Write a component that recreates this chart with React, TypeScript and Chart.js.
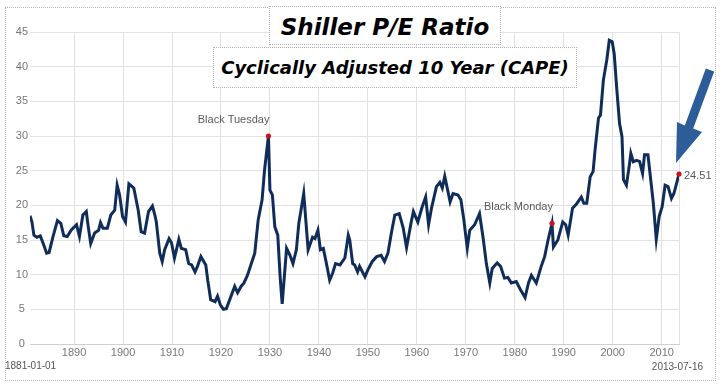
import React, { useEffect, useRef } from "react";
import { Chart, registerables } from "chart.js";

Chart.register(...registerables);

const years: number[] = [
  1881.0, 1881.4, 1881.8, 1882.4, 1883.1, 1883.7, 1884.4, 1884.9, 1885.7, 1886.6,
  1887.3, 1887.9, 1888.6, 1889.4, 1890.5, 1891.1, 1891.8, 1892.5, 1892.8, 1893.4,
  1894.2, 1895.0, 1895.4, 1895.9, 1896.8, 1897.5, 1898.3, 1898.8, 1899.3, 1899.9,
  1900.5, 1901.2, 1902.2, 1903.1, 1903.7, 1904.4, 1905.2, 1906.0, 1906.5, 1906.8,
  1907.5, 1908.0, 1908.5, 1909.4, 1909.9, 1910.5, 1911.4, 1911.9, 1912.8, 1913.4,
  1914.0, 1914.7, 1915.2, 1915.9, 1916.9, 1917.3, 1917.9, 1918.8, 1919.3, 1919.9,
  1920.5, 1921.1, 1922.0, 1922.8, 1923.4, 1924.1, 1924.7, 1925.4, 1926.2, 1926.9,
  1927.6, 1928.4, 1928.9, 1929.7, 1930.0, 1930.5, 1931.0, 1931.6, 1932.1, 1932.5,
  1933.4, 1934.1, 1934.7, 1935.4, 1935.9, 1936.9, 1937.8, 1938.7, 1939.2, 1939.8,
  1940.3, 1940.9, 1941.4, 1942.2, 1942.8, 1943.4, 1944.3, 1945.3, 1946.0, 1946.3,
  1946.9, 1947.3, 1947.9, 1948.3, 1949.4, 1950.0, 1950.9, 1951.8, 1952.7, 1953.4,
  1954.1, 1954.8, 1955.5, 1956.4, 1957.2, 1957.9, 1958.8, 1959.3, 1960.2, 1961.1,
  1961.8, 1962.4, 1963.0, 1964.0, 1964.7, 1965.2, 1965.7, 1966.8, 1967.4, 1968.4,
  1969.0, 1969.6, 1970.3, 1970.8, 1971.8, 1972.8, 1973.5, 1974.2, 1974.9, 1975.4,
  1976.4, 1977.1, 1977.9, 1978.6, 1979.3, 1980.3, 1981.2, 1982.1, 1982.8, 1983.4,
  1984.4, 1985.4, 1986.1, 1986.8, 1987.6, 1987.9, 1988.8, 1989.8, 1990.4, 1990.9,
  1991.8, 1992.6, 1993.6, 1994.1, 1994.7, 1995.4, 1996.0, 1996.4, 1997.1, 1997.5,
  1998.1, 1998.8, 1999.3, 1999.9, 2000.3, 2000.8, 2001.4, 2001.9, 2002.2, 2002.8,
  2003.4, 2003.7, 2004.2, 2004.9, 2005.5, 2006.1, 2006.5, 2007.2, 2007.7, 2008.3,
  2008.9, 2009.5, 2010.1, 2010.7, 2011.3, 2012.0, 2012.5, 2013.54,
];

const capeValues: number[] = [
  18.5, 17.6, 15.7, 15.4, 15.6, 14.5, 13.1, 13.2, 15.5, 17.8,
  17.4, 15.6, 15.5, 16.4, 17.2, 15.5, 18.6, 19.1, 17.4, 14.5,
  16.0, 16.4, 17.5, 16.7, 16.7, 18.6, 19.3, 22.9, 21.5, 18.4,
  17.6, 23.1, 22.5, 19.3, 16.2, 16.0, 19.1, 19.9, 18.6, 17.6,
  13.1, 11.9, 13.6, 15.2, 14.6, 12.4, 15.1, 13.8, 13.6, 11.6,
  11.4, 10.4, 11.2, 12.6, 11.4, 9.2, 6.4, 6.1, 6.9, 5.6,
  5.0, 5.1, 6.8, 8.3, 7.4, 8.3, 8.8, 9.9, 11.6, 13.1,
  17.9, 20.8, 25.1, 30.0, 22.2, 21.5, 16.9, 15.7, 9.5, 5.8,
  13.8, 12.8, 11.6, 13.6, 17.4, 21.7, 13.6, 15.4, 15.2, 16.4,
  13.6, 13.8, 12.1, 9.2, 10.2, 11.6, 11.4, 12.4, 15.7, 15.0,
  11.6, 11.4, 10.4, 11.2, 9.7, 10.7, 11.9, 12.6, 12.8, 11.9,
  13.1, 16.0, 18.6, 18.8, 16.8, 13.9, 17.4, 19.1, 17.6, 19.8,
  21.2, 17.2, 19.6, 22.7, 23.3, 22.5, 24.2, 20.5, 21.7, 21.5,
  20.8, 17.9, 13.8, 16.4, 17.2, 18.8, 15.5, 11.6, 8.8, 10.9,
  11.7, 11.2, 9.5, 9.6, 8.8, 9.0, 7.8, 6.7, 8.8, 9.9,
  8.8, 11.2, 12.6, 15.0, 17.4, 14.0, 15.0, 17.6, 17.2, 15.7,
  19.6, 20.2, 21.2, 20.3, 20.3, 24.1, 24.9, 28.0, 32.6, 33.0,
  38.1, 41.0, 43.8, 43.6, 41.9, 37.1, 31.8, 29.9, 23.7, 22.9,
  25.8, 27.5, 26.3, 26.5, 26.3, 24.6, 27.3, 27.3, 24.1, 20.3,
  15.1, 18.4, 19.8, 22.9, 22.7, 21.0, 21.7, 24.51,
];

const decadeTicks: number[] = [1890, 1900, 1910, 1920, 1930, 1940, 1950, 1960, 1970, 1980, 1990, 2000, 2010];
const startDateLabel = "1881-01-01";
const endDateLabel = "2013-07-16";
const titleText = "Shiller P/E Ratio";
const subtitleText = "Cyclically Adjusted 10 Year (CAPE)";

const annotationLabels: string[] = ["Black Tuesday", "Black Monday", "24.51"];
const annotationYears: number[] = [1929.7, 1987.6, 2013.54];
const annotationValues: number[] = [30.0, 17.4, 24.51];
const annotationSides: string[] = ["above", "above", "right"];

const X_MIN = 1881;
const X_MAX = 2013.54;
const TICK_FONT = "'Liberation Sans', Arial, sans-serif";

const annotationPlugin = {
  id: "capeAnnotations",
  afterDatasetsDraw(chart: any) {
    const ctx = chart.ctx;
    const xs = chart.scales.x;
    const ys = chart.scales.y;
    ctx.save();
    for (let i = 0; i < annotationLabels.length; i++) {
      const px = xs.getPixelForValue(annotationYears[i]);
      const py = ys.getPixelForValue(annotationValues[i]);
      ctx.fillStyle = "#c8141e";
      ctx.beginPath();
      ctx.arc(px, py, 2.6, 0, Math.PI * 2);
      ctx.fill();
      ctx.fillStyle = "#5a5a5a";
      ctx.font = `11px ${TICK_FONT}`;
      ctx.textBaseline = "middle";
      if (annotationSides[i] === "above") {
        ctx.textAlign = "right";
        ctx.fillText(annotationLabels[i], px + 1, py - 16);
      } else {
        ctx.textAlign = "left";
        ctx.fillText(annotationLabels[i], px + 5, py + 2);
      }
    }
    ctx.font = `10px ${TICK_FONT}`;
    ctx.fillStyle = "#555";
    ctx.textBaseline = "middle";
    ctx.textAlign = "left";
    ctx.fillText(startDateLabel, 5, 366);
    ctx.textAlign = "right";
    ctx.fillText(endDateLabel, 703, 367);
    ctx.restore();
  },
};

export default function App() {
  const canvasRef = useRef<HTMLCanvasElement | null>(null);

  useEffect(() => {
    if (!canvasRef.current) return;
    const points = years.map((x, i) => ({ x, y: capeValues[i] }));
    const chart = new Chart(canvasRef.current, {
      type: "line",
      data: {
        datasets: [
          {
            data: points,
            borderColor: "#102d5a",
            borderWidth: 3,
            pointRadius: 0,
            tension: 0,
            fill: false,
          },
        ],
      },
      options: {
        responsive: false,
        animation: false,
        layout: { padding: { top: 32, right: 43, left: 0, bottom: 0 } },
        plugins: { legend: { display: false }, tooltip: { enabled: false }, title: { display: false } },
        scales: {
          x: {
            type: "linear",
            min: X_MIN,
            max: X_MAX,
            afterBuildTicks: (scale: any) => {
              scale.ticks = [...decadeTicks, X_MAX].map((v) => ({ value: v }));
            },
            afterFit: (scale: any) => {
              scale.height = 42;
            },
            ticks: {
              autoSkip: false,
              maxRotation: 0,
              padding: 2,
              color: "#777",
              font: { size: 11, family: TICK_FONT },
              callback: (v: any) => (decadeTicks.includes(Number(v)) ? String(v) : ""),
            },
            grid: { color: "#e2e2e2", drawTicks: false, lineWidth: 1 },
            border: { color: "#cfcfcf" },
          },
          y: {
            min: 0,
            max: 45,
            afterFit: (scale: any) => {
              scale.width = 30;
            },
            ticks: {
              stepSize: 5,
              padding: 2,
              crossAlign: "center",
              color: "#777",
              font: { size: 11, family: TICK_FONT },
            },
            grid: { color: "#e2e2e2", drawTicks: false },
            border: { display: false },
          },
        },
      },
      plugins: [annotationPlugin],
    } as any);
    return () => chart.destroy();
  }, []);

  const titleFont = "'DejaVu Sans', Verdana, sans-serif";

  return (
    <div style={{ position: "fixed", left: 0, top: 0, width: 722, height: 386, background: "#fff" }}>
      <div
        style={{
          position: "absolute",
          left: 5,
          top: 7,
          width: 709,
          height: 372,
          border: "1px dotted #b5b5b5",
        }}
      />
      <canvas ref={canvasRef} width={722} height={386} style={{ position: "absolute", left: 0, top: 0 }} />
      <div
        style={{
          position: "absolute",
          left: 269,
          top: 6,
          width: 232,
          height: 39,
          border: "1px dotted #b0b0b0",
          background: "#fff",
          display: "flex",
          alignItems: "center",
          justifyContent: "center",
          fontFamily: titleFont,
          fontWeight: "bold",
          fontStyle: "italic",
          fontSize: 23,
          color: "#000",
          whiteSpace: "nowrap",
          paddingTop: 3,
          boxSizing: "border-box",
        }}
      >
        {titleText}
      </div>
      <div
        style={{
          position: "absolute",
          left: 213,
          top: 47,
          width: 364,
          height: 41,
          border: "1px dotted #b0b0b0",
          background: "#fff",
          display: "flex",
          alignItems: "center",
          justifyContent: "center",
          fontFamily: titleFont,
          fontWeight: "bold",
          fontStyle: "italic",
          fontSize: 18,
          color: "#000",
          whiteSpace: "nowrap",
          boxSizing: "border-box",
        }}
      >
        {subtitleText}
      </div>
      <svg
        width={722}
        height={386}
        style={{ position: "absolute", left: 0, top: 0, pointerEvents: "none" }}
      >
        <polygon
          points="705.8,68.4 714.2,71.6 693.2,128.6 702,132 676,163 677,122 684.8,125.4"
          fill="#2c5d98"
        />
      </svg>
    </div>
  );
}
